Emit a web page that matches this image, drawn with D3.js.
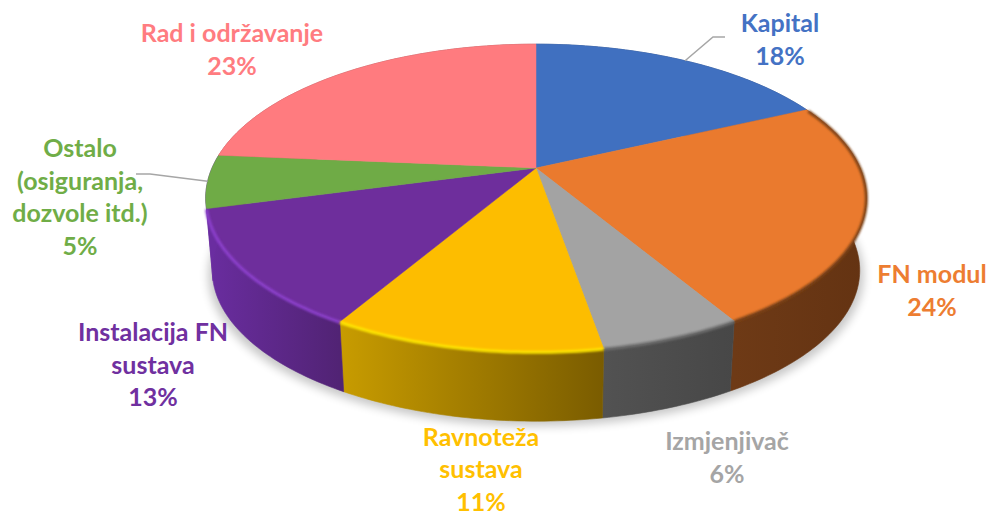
<!DOCTYPE html>
<html><head><meta charset="utf-8">
<script src="https://cdn.jsdelivr.net/npm/d3@7"></script>
<style>html,body{margin:0;background:#fff}svg{display:block}text{font-family:Lato,"Open Sans",sans-serif;font-weight:700;font-size:25px;text-anchor:middle}</style>
</head><body><svg id="c" width="988" height="516"></svg>
<script>
const categories=["Kapital","FN modul","Izmjenjivač","Ravnoteža sustava","Instalacija FN sustava","Ostalo (osiguranja, dozvole itd.)","Rad i održavanje"];
const shares=[18,23.5,5.8,11.1,12.4,5.6,23.6];
const percentLabels=["18%","24%","6%","11%","13%","5%","23%"];
const labelLines=[["Kapital"],["FN modul"],["Izmjenjivač"],["Ravnoteža","sustava"],["Instalacija FN","sustava"],["Ostalo","(osiguranja,","dozvole itd.)"],["Rad i održavanje"]];
const topColors=["#4070c0","#ea7a2e","#a3a3a3","#fdbd00","#6e2e9c","#6fab46","#ff7b7f"];
const textColors=["#4472c4","#ed7d31","#a5a5a5","#ffc000","#7030a0","#70ad47","#ff7c80"];
const wallLeft=["#2a4a80","#6e3a16","#525252","#c89c00","#6a2da0","#6a2da0","#a85053"];
const wallRight=["#2a4a80","#643312","#474747","#7a5c00","#512374","#6a2da0","#a85053"];
const rimColors=["#2f5597","#7d4318","#6e6e6e","#ffe600","#8c40cc","#7cc04e","#ff7b7f"];
const labelX=[780,932,727,481,153,80,232];
const labelY=[32,283,450,445.5,341,157,42];
const lineStep=32.7;

const svg=d3.select("#c");
const defs=svg.append("defs");
const fB=defs.append("filter").attr("id","rimBlur").attr("x","-20%").attr("y","-20%").attr("width","140%").attr("height","140%");
fB.append("feGaussianBlur").attr("stdDeviation",1.1);
const fS=defs.append("filter").attr("id","shadowBlur").attr("x","-20%").attr("y","-20%").attr("width","140%").attr("height","140%");
fS.append("feGaussianBlur").attr("stdDeviation",5);

// perspective disc: tilt k shrinks the far side
const k=0.195, cx=536, cy=168, rx=324, ry=148, depth=73, bottomScale=0.98;
const sx=d3.scaleLinear().domain([-1,1]).range([cx-rx,cx+rx]);
const sy=d3.scaleLinear().domain([-1,1]).range([cy+ry,cy-ry]);
function rim(a,level){
  const w=1+k*Math.cos(a);
  const x=sx(Math.sin(a)/w), y=sy(Math.cos(a)/w);
  return level===0?[x,y]:[cx+(x-cx)*bottomScale,cy+(y-cy)*bottomScale+depth];
}
const arcs=d3.pie().sort(null).value(d=>d)(shares);
const samples=(a0,a1)=>{const n=Math.max(2,Math.ceil((a1-a0)*60));return d3.range(n+1).map(i=>a0+(a1-a0)*i/n);};
const line=d3.line();
const circle=d3.range(0,2*Math.PI,0.02);

// soft shadow
svg.append("path").attr("d",line(circle.map(a=>{const p=rim(a,1);return [cx+(p[0]-cx)*1.012,p[1]+5];}))+"Z")
  .attr("fill","#000").attr("opacity",0.22).attr("filter","url(#shadowBlur)");

// gradients and walls
arcs.forEach((d,i)=>{
  const pts=samples(d.startAngle,d.endAngle);
  const xs=pts.map(a=>rim(a,0)[0]);
  const g=defs.append("linearGradient").attr("id","w"+i).attr("gradientUnits","userSpaceOnUse")
    .attr("x1",d3.min(xs)).attr("x2",d3.max(xs)).attr("y1",0).attr("y2",0);
  g.append("stop").attr("offset",0).attr("stop-color",wallLeft[i]);
  g.append("stop").attr("offset",1).attr("stop-color",wallRight[i]);
  svg.append("path").attr("class","wall")
    .attr("d",line(pts.map(a=>rim(a,0)).concat(pts.slice().reverse().map(a=>rim(a,1))))+"Z")
    .attr("fill",`url(#w${i})`).attr("stroke",`url(#w${i})`).attr("stroke-width",0.6);
});
// top faces
arcs.forEach((d,i)=>{
  const pts=samples(d.startAngle,d.endAngle);
  svg.append("path").attr("class","slice")
    .attr("d",line([[cx,cy]].concat(pts.map(a=>rim(a,0))))+"Z")
    .attr("fill",topColors[i]).attr("stroke",topColors[i]).attr("stroke-width",0.5);
});
// bevel along the visible rim
arcs.forEach((d,i)=>{
  const a0=Math.max(d.startAngle,1.14), a1=Math.min(d.endAngle,4.45);
  if(a1<=a0) return;
  svg.append("path").attr("d",line(samples(a0,a1).map(a=>{const p=rim(a,0);return [p[0],p[1]+0.5];})))
    .attr("fill","none").attr("stroke",rimColors[i]).attr("stroke-width",3)
    .attr("filter","url(#rimBlur)");
});
// leader lines
const mid=i=>(arcs[i].startAngle+arcs[i].endAngle)/2;
const leaderGen=d3.line();
[[0,[[713,37],[725,37]]],[5,[[150,174],[136,174]]]].forEach(([i,rest])=>{
  svg.append("path").attr("d",leaderGen([rim(mid(i),0)].concat(rest)))
    .attr("fill","none").attr("stroke","#a6a6a6").attr("stroke-width",1.5);
});
// labels
categories.forEach((c,i)=>{
  const t=svg.append("text").attr("fill",textColors[i]);
  labelLines[i].concat([percentLabels[i]]).forEach((s,j)=>{
    t.append("tspan").attr("x",labelX[i]).attr("y",labelY[i]+j*lineStep).text(s);
  });
});
</script></body></html>
